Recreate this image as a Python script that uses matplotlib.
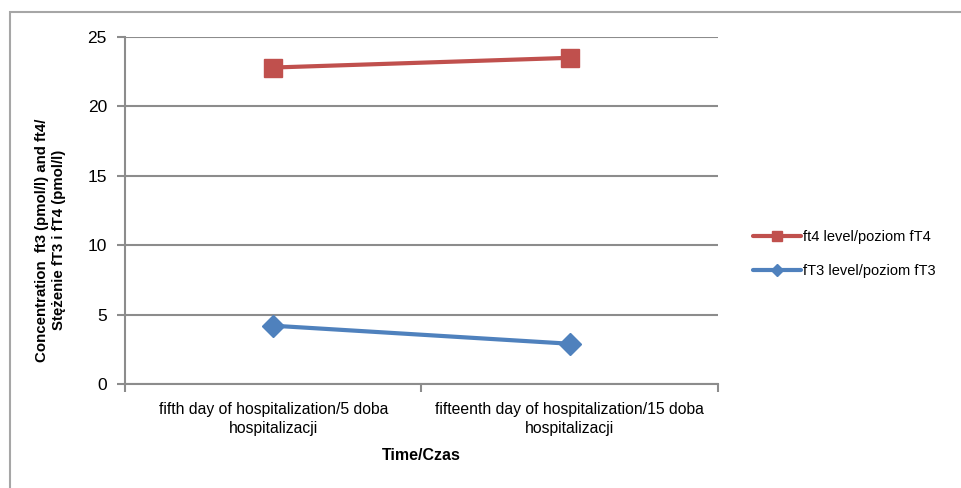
import matplotlib
matplotlib.use("Agg")
import matplotlib.pyplot as plt
from matplotlib.patches import Rectangle

plt.rcParams['font.family'] = ['Liberation Sans Narrow', 'Liberation Sans', 'DejaVu Sans']

categories = ["fifth day of hospitalization/5 doba\nhospitalizacji",
              "fifteenth day of hospitalization/15 doba\nhospitalizacji"]
ft4 = [22.8, 23.5]
ft3 = [4.2, 2.9]

W, H = 961, 488
fig = plt.figure(figsize=(W / 100, H / 100), dpi=100)
ax = fig.add_axes([125 / W, 1 - 384 / H, (718 - 125) / W, (384 - 37) / H])

x = range(len(categories))
ax.plot(x, ft4, color="#C0504D", lw=3, marker="s", markersize=13,
        label="ft4 level/poziom fT4", solid_capstyle="round")
ax.plot(x, ft3, color="#4F81BD", lw=3, marker="D", markersize=11,
        label="fT3 level/poziom fT3", solid_capstyle="round")

ax.set_xlim(-0.5, 1.5)
ax.set_ylim(0, 25)
ax.set_yticks([0, 5, 10, 15, 20, 25])
ax.set_xticks([-0.5, 0.5, 1.5])
ax.set_xticklabels([])
ax.set_xticks([0, 1], minor=True)
ax.set_xticklabels(categories, minor=True, fontsize=11.3, linespacing=1.3)
ax.tick_params(axis="x", which="minor", length=0, pad=13)
ax.tick_params(axis="x", which="major", length=6, color="#8c8c8c", width=1.5)
ax.tick_params(axis="y", length=6, color="#8c8c8c", width=1.5, labelsize=12.5, pad=7)

ax.grid(axis="y", color="#8c8c8c", lw=1.5)
ax.set_axisbelow(True)
for s in ["top", "right"]:
    ax.spines[s].set_visible(False)
for s in ["left", "bottom"]:
    ax.spines[s].set_color("#8c8c8c")
    ax.spines[s].set_linewidth(1.5)

ax.set_xlabel("Time/Czas", fontsize=11.5, fontweight="bold", labelpad=9)
ax.set_ylabel("Concentration  ft3 (pmol/l) and ft4/\nStężenie fT3 i fT4 (pmol/l)",
              fontsize=10.8, fontweight="bold", linespacing=1.2)
ax.yaxis.set_label_coords(-0.1, 0.415)

leg = ax.legend(loc="center left", bbox_to_anchor=(1.037, 0.375), frameon=False,
                fontsize=10.5, handlelength=3.3, markerscale=0.6,
                labelspacing=1.35, handletextpad=0.15)

fig.patches.append(Rectangle((10 / W, -0.1), 1.2, 1.1 - 12 / H, transform=fig.transFigure,
                             fill=False, edgecolor="#a6a6a6", lw=1.5))

fig.savefig("out.png", dpi=100)
